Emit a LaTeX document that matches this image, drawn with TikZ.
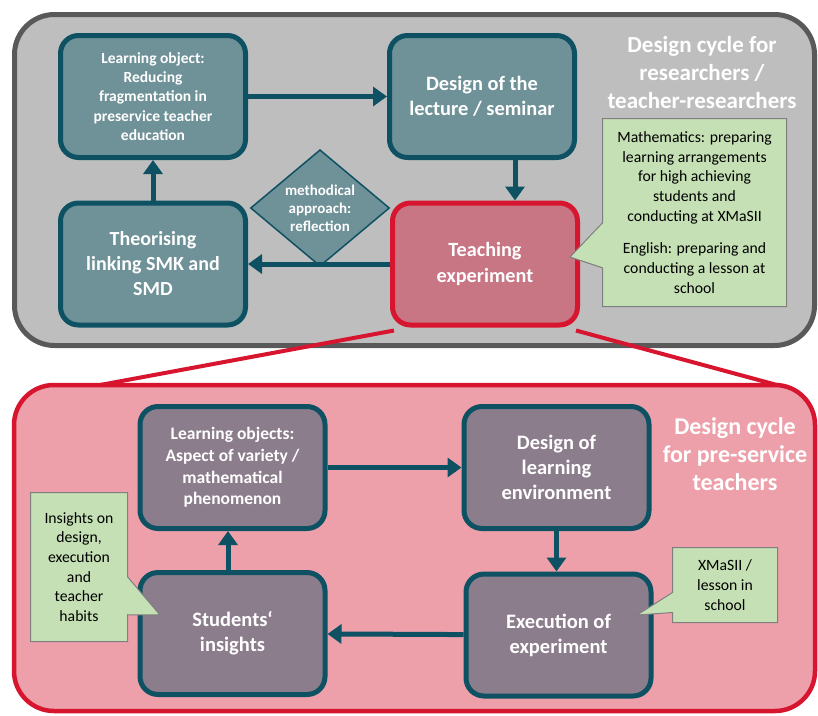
\documentclass[tikz,border=0pt]{standalone}
\usepackage{fontspec}
\setmainfont{Carlito}
\usetikzlibrary{shapes.geometric,shapes.callouts,arrows.meta}

\definecolor{framegray}{HTML}{595959}
\definecolor{bggray}{HTML}{BEBEBE}
\definecolor{bgpink}{HTML}{EEA0AA}
\definecolor{expred}{HTML}{D7152F}
\definecolor{teachfill}{HTML}{C87584}
\definecolor{tealline}{HTML}{0E5163}
\definecolor{tealfill}{HTML}{6F9198}
\definecolor{mauvefill}{HTML}{8C7D8C}
\definecolor{notegreen}{HTML}{C5E0B4}
\definecolor{notegray}{HTML}{7F7F7F}

\newcommand\fsz[2]{\fontsize{#1}{#2}\selectfont}

\tikzset{
  cyclebox/.style={draw=tealline, fill=tealfill, line width=5pt, rounded corners=18pt,
    minimum width=185pt, minimum height=122pt, align=center, text=white, inner sep=2pt},
  innerbox/.style={cyclebox, fill=mauvefill},
  expbox/.style={cyclebox, draw=expred, fill=teachfill},
  notebox/.style={rectangle callout, draw=notegray, fill=notegreen, line width=1pt,
    align=center, text=black, inner sep=2pt, font=\fsz{15.7}{19.7}},
  flow/.style={draw=tealline, line width=5pt, -{Triangle[width=19pt,length=14pt]}},
  zoomline/.style={draw=expred, line width=4pt},
  cycletitle/.style={text=white, align=center}
}

\begin{document}
\begin{tikzpicture}[x=1pt,y=-1pt]
  \useasboundingbox (0,0) rectangle (818,715);

  % Frames of the two cycles
  \draw[line width=5pt, draw=framegray, fill=bggray, rounded corners=40pt] (14.5,14.5) rectangle (814.5,345.5);
  \draw[line width=4.5pt, draw=expred, fill=bgpink, rounded corners=40pt] (14,385) rectangle (815,711);

  % Design cycle for researchers
  \node[cyclebox, font=\bfseries\fsz{15.5}{19.2}] (lobj) at (153,96.5)
    {Learning object:\\Reducing\\fragmentation in\\preservice teacher\\education};
  \node[cyclebox, font=\bfseries\fsz{20.4}{25.5}] (design) at (482,96.5)
    {Design of the\\lecture / seminar};
  \node[cyclebox, font=\bfseries\fsz{20}{25}] (theo) at (153,264)
    {Theorising\\linking SMK and\\SMD};
  \node[expbox, font=\bfseries\fsz{20.2}{26}] (teach) at (485,264)
    {Teaching\\experiment};
  \node[diamond, draw=tealline, fill=tealfill, line width=1.5pt, minimum width=139pt,
    minimum height=101pt, inner sep=0pt, align=center, text=white,
    font=\bfseries\fsz{15}{18}] (method) at (320,208)
    {methodical\\approach:\\reflection};

  \draw[flow] (lobj) -- (design);
  \draw[flow] ([xshift=33pt]design.south) -- ([xshift=30pt]teach.north);
  \draw[flow] (teach) -- (theo);
  \draw[flow] (theo) -- (lobj);

  \node[cycletitle, font=\bfseries\fsz{23}{28}] (toptitle) at (702,73)
    {Design cycle for\\researchers /\\teacher-researchers};

  \coordinate (tipA) at (570,257);
  \node[notebox, callout absolute pointer={(tipA)}, callout pointer width=45pt,
    minimum width=184pt, minimum height=188pt] (mathnote) at (694.5,212.5)
    {Mathematics: preparing\\learning arrangements\\for high achieving\\students and\\conducting at XMaSII\\[13pt]English: preparing and\\conducting a lesson at\\school};

  % Zoom onto the teaching experiment
  \coordinate (zoomL) at (100,385);
  \coordinate (zoomR) at (777,385);
  \draw[zoomline] ([shift={(4pt,-3pt)}]teach.south west) -- (zoomL);
  \draw[zoomline] ([shift={(-4pt,-3pt)}]teach.south east) -- (zoomR);

  % Design cycle for pre-service teachers
  \node[innerbox, font=\bfseries\fsz{17.5}{21.7}] (lobjs) at (232.5,467.5)
    {Learning objects:\\Aspect of variety /\\mathematical\\phenomenon};
  \node[innerbox, font=\bfseries\fsz{20.5}{25}] (envir) at (556.5,467.5)
    {Design of\\learning\\environment};
  \node[innerbox, font=\bfseries\fsz{20.5}{25}] (exec) at (558.5,635)
    {Execution of\\experiment};
  \node[innerbox, font=\bfseries\fsz{20.5}{25}] (stud) at (232.5,633.5)
    {Students‘\\insights};

  \draw[flow] (lobjs) -- (envir);
  \draw[flow] (envir.south) -- (envir.south |- exec.north);
  \draw[flow] (exec) -- (stud);
  \draw[flow] (stud.north -| 228,0) -- (lobjs.south -| 228,0);

  \node[cycletitle, font=\bfseries\fsz{24}{28.3}] (bottitle) at (735,454)
    {Design cycle\\for pre-service\\teachers};

  \coordinate (tipB) at (637,615);
  \node[notebox, callout absolute pointer={(tipB)}, callout pointer width=20pt,
    minimum width=105pt, minimum height=75pt] (schoolnote) at (725,585)
    {XMaSII /\\lesson in\\school};

  \coordinate (tipC) at (160,615);
  \node[notebox, callout absolute pointer={(tipC)}, callout pointer width=38pt,
    minimum width=97pt, minimum height=149pt] (insightnote) at (79,567)
    {Insights on\\design,\\execution\\and\\teacher\\habits};
\end{tikzpicture}
\end{document}
